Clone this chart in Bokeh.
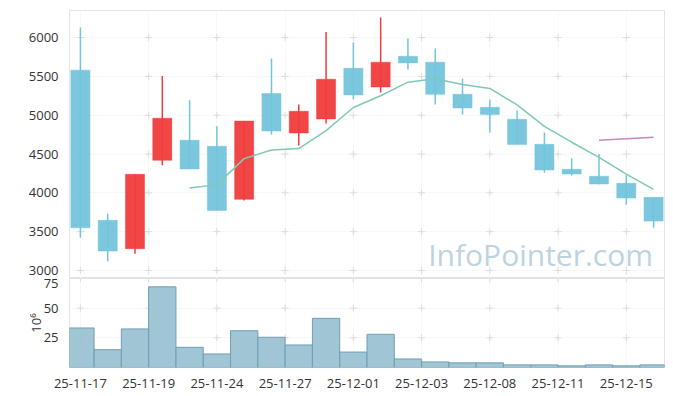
import itertools
import pandas as pd
from bokeh.plotting import figure
from bokeh.layouts import column
from bokeh.models import ColumnDataSource, Range1d, FixedTicker, Label
from bokeh.embed import file_html
from bokeh.resources import INLINE

dates = ["25-11-17", "25-11-18", "25-11-19", "25-11-20", "25-11-21",
         "25-11-24", "25-11-25", "25-11-26", "25-11-27", "25-11-28",
         "25-12-01", "25-12-02", "25-12-03", "25-12-04", "25-12-05",
         "25-12-08", "25-12-09", "25-12-10", "25-12-11", "25-12-12",
         "25-12-15", "25-12-16"]
opens = [5580, 3646, 3281, 4419, 4677, 4599, 3916, 5278, 4771, 4951, 5604,
         5363, 5759, 5682, 5269, 5102, 4947, 4625, 4303, 4213, 4122, 3942]
highs = [6129, 3732, 4238, 5505, 5192, 4857, 4925, 5729, 5137, 6072, 5935,
         6258, 5987, 5858, 5472, 5201, 5059, 4776, 4445, 4500, 4225, 3942]
lows = [3423, 3117, 3216, 4354, 4307, 3774, 3900, 4750, 4610, 4892, 5201,
        5291, 5588, 5137, 5008, 4776, 4621, 4260, 4222, 4110, 3848, 3552]
closes = [3550, 3250, 4238, 4960, 4307, 3774, 4925, 4796, 5050, 5463, 5260,
          5682, 5673, 5269, 5093, 5008, 4621, 4294, 4243, 4114, 3933, 3636]
volumes = [33.3, 15.0, 32.5, 68.0, 17.0, 11.4, 31.0, 25.5, 19.0, 41.4, 13.0,
           28.0, 7.2, 4.7, 3.9, 3.9, 2.2, 2.2, 1.4, 2.2, 1.4, 2.2]

price_ticks = [3000, 3500, 4000, 4500, 5000, 5500, 6000]
volume_ticks = [25, 50, 75]
x_ticks = [0, 2.5, 5, 7.5, 10, 12.5, 15, 17.5, 20]

UP = "#f03c3c"
DOWN = "#73c4dc"
FONT = "Open Sans"

idx = list(range(len(dates)))
up = [c >= o for o, c in zip(opens, closes)]
colors = [UP if u else DOWN for u in up]
ma5 = pd.Series(closes).rolling(5).mean()
ma20 = pd.Series(closes).rolling(20).mean()

src = ColumnDataSource(dict(
    x=idx, open=opens, high=highs, low=lows, close=closes,
    top=[max(o, c) for o, c in zip(opens, closes)],
    bottom=[min(o, c) for o, c in zip(opens, closes)],
    color=colors, vol=volumes,
))
ma_src = ColumnDataSource(dict(x=idx, ma5=ma5.tolist(), ma20=ma20.tolist()))

x_range = Range1d(-0.4, 21.4)

def style(fig):
    fig.outline_line_color = "#e3e3e3"
    fig.xgrid.grid_line_color = "#f8f8f8"
    fig.ygrid.grid_line_color = "#f8f8f8"
    for ax in fig.axis:
        ax.axis_line_color = None
        ax.major_tick_line_color = None
        ax.minor_tick_line_color = None
        ax.major_label_text_font = FONT
        ax.major_label_text_font_size = "13px"
        ax.major_label_text_color = "#333333"
        ax.major_label_standoff = 5

p = figure(width=672, height=278, x_range=x_range, y_range=Range1d(2897, 6348),
           output_backend="svg", toolbar_location=None,
           min_border_left=69, min_border_right=8, min_border_top=10, min_border_bottom=0)
style(p)
p.xaxis.visible = False
p.yaxis.ticker = FixedTicker(ticks=price_ticks)
p.xaxis.ticker = FixedTicker(ticks=x_ticks)
p.xgrid.ticker = FixedTicker(ticks=x_ticks)

gx, gy = zip(*itertools.product(x_ticks, price_ticks))
p.scatter(list(gx), list(gy), marker="cross", size=7, line_color="#dcdcdc", line_width=1)

wm = Label(x=20.98, y=3210, text="InfoPointer.com", text_align="right",
           text_baseline="alphabetic", text_font=FONT, text_font_size="30px",
           text_color="#bed3e0", text_alpha=1.0)
p.add_layout(wm)

p.segment(x0="x", y0="high", x1="x", y1="low", source=src, line_color="color", line_width=1.5)
p.vbar(x="x", width=0.7, top="top", bottom="bottom", source=src,
       fill_color="color", fill_alpha=0.95, line_color="color", line_alpha=0.45)
p.line("x", "ma5", source=ma_src, line_color="#7fc9b5", line_width=1.5)
p.line("x", "ma20", source=ma_src, line_color="#cc88bb", line_width=1.5)

v = figure(width=672, height=116, x_range=x_range, y_range=Range1d(0, 75),
           output_backend="svg", toolbar_location=None,
           min_border_left=69, min_border_right=8, min_border_top=0, min_border_bottom=27)
style(v)
v.yaxis.ticker = FixedTicker(ticks=volume_ticks)
v.xaxis.ticker = FixedTicker(ticks=x_ticks)
v.xgrid.ticker = FixedTicker(ticks=x_ticks)
v.xaxis.major_label_overrides = {t: dates[round(t)] for t in x_ticks}
v.yaxis.axis_label = "10⁶"
v.yaxis.axis_label_text_font = FONT
v.yaxis.axis_label_text_font_style = "normal"
v.yaxis.axis_label_text_font_size = "13px"
v.yaxis.axis_label_text_color = "#333333"
v.yaxis.axis_label_standoff = -4

vx, vy = zip(*itertools.product(x_ticks, volume_ticks))
v.scatter(list(vx), list(vy), marker="cross", size=7, line_color="#dcdcdc", line_width=1)
v.vbar(x="x", width=1.0, top="vol", bottom=0, source=src,
       fill_color="#96bfcf", fill_alpha=0.9, line_color="#6f9fb4", line_width=1)

layout = column(p, v)
open("out.html", "w").write(file_html(layout, INLINE))
